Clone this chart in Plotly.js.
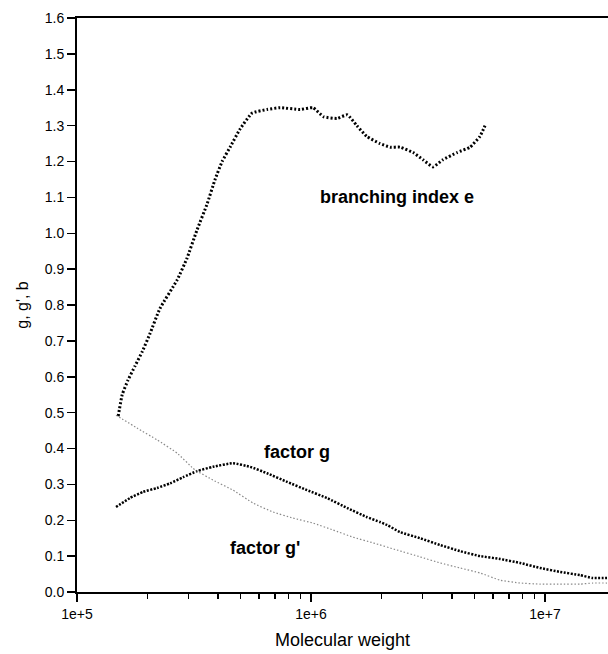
<!DOCTYPE html>
<html>
<head>
<meta charset="utf-8">
<script src="https://cdn.plot.ly/plotly-3.0.1.min.js"></script>
<style>html,body{margin:0;padding:0;background:#fff;}#chart{width:608px;height:654px;}</style>
</head>
<body>
<div id="chart"></div>
<script>
// Branching index e
const bMw = [1.50e5,1.56e5,1.65e5,1.77e5,1.90e5,2.05e5,2.26e5,2.68e5,2.95e5,3.26e5,3.59e5,3.89e5,4.17e5,4.51e5,4.97e5,5.60e5,6.49e5,7.38e5,8.98e5,1.02e6,1.13e6,1.29e6,1.43e6,1.57e6,1.73e6,1.97e6,2.18e6,2.40e6,2.73e6,3.01e6,3.32e6,3.66e6,4.21e6,4.78e6,5.27e6,5.54e6];
const bVal = [0.49,0.55,0.59,0.63,0.67,0.72,0.79,0.87,0.93,1.01,1.08,1.15,1.20,1.24,1.29,1.335,1.345,1.35,1.345,1.35,1.325,1.32,1.33,1.30,1.27,1.25,1.24,1.24,1.225,1.205,1.185,1.205,1.225,1.24,1.27,1.30];
// factor g
const gMw = [1.468e5,1.685e5,1.915e5,2.20e5,2.50e5,2.84e5,3.26e5,3.81e5,4.64e5,5.49e5,6.49e5,7.90e5,9.61e5,1.17e6,1.43e6,1.73e6,1.97e6,2.11e6,2.40e6,2.92e6,3.56e6,4.33e6,5.28e6,6.42e6,7.82e6,9.52e6,1.16e7,1.41e7,1.60e7,1.84e7];
const gVal = [0.237,0.262,0.279,0.290,0.303,0.320,0.337,0.349,0.359,0.349,0.331,0.307,0.284,0.262,0.234,0.209,0.195,0.187,0.167,0.150,0.131,0.114,0.100,0.092,0.081,0.067,0.056,0.047,0.039,0.039];
// factor g'
const gpMw = [1.468e5,1.805e5,2.20e5,2.68e5,3.13e5,3.26e5,3.81e5,4.64e5,5.65e5,6.88e5,8.38e5,1.02e6,1.24e6,1.51e6,1.84e6,2.33e6,2.92e6,3.56e6,4.33e6,5.28e6,6.42e6,7.82e6,9.52e6,1.16e7,1.41e7,1.60e7,1.84e7];
const gpVal = [0.493,0.457,0.424,0.387,0.345,0.337,0.312,0.284,0.248,0.223,0.206,0.192,0.173,0.153,0.137,0.117,0.098,0.081,0.067,0.053,0.033,0.025,0.022,0.022,0.022,0.025,0.025];

const xTickVals = [1e5, 1e6, 1e7];
const xTickText = ['1e+5', '1e+6', '1e+7'];
const labels = [
  {text: 'branching index e', mw: 2.33e6, v: 1.101},
  {text: 'factor g', mw: 8.71e5, v: 0.390},
  {text: "factor g'", mw: 6.35e5, v: 0.123}
];

const minorVals = [];
for (let e = 5; e <= 7; e++) for (let m = 2; m <= 9; m++) minorVals.push(m * Math.pow(10, e));

const traces = [
  {x: bMw, y: bVal, mode: 'lines', line: {color: '#000', width: 3, dash: '2px,2px', shape: 'spline', smoothing: 0.4}, hoverinfo: 'skip'},
  {x: gMw, y: gVal, mode: 'lines', line: {color: '#000', width: 2.5, dash: '2px,1.5px', shape: 'spline', smoothing: 0.4}, hoverinfo: 'skip'},
  {x: gpMw, y: gpVal, mode: 'lines', line: {color: '#8a8a8a', width: 1.2, dash: '1.5px,2px', shape: 'spline', smoothing: 0.4}, hoverinfo: 'skip'}
];

const font = 'Arial, "Liberation Sans", sans-serif';
const layout = {
  width: 608, height: 654,
  margin: {l: 77, r: 0, t: 18, b: 62},
  paper_bgcolor: '#fff', plot_bgcolor: '#fff',
  showlegend: false,
  font: {family: font, color: '#000'},
  xaxis: {
    type: 'log', range: [5, 7.269],
    tickmode: 'array', tickvals: xTickVals, ticktext: xTickText,
    ticks: 'outside', ticklen: 8, tickwidth: 1.5, tickcolor: '#000',
    tickfont: {family: font, size: 14, color: '#000'},
    minor: {ticks: 'outside', ticklen: 5, tickwidth: 1.5, tickcolor: '#000', tickmode: 'array', tickvals: minorVals, showgrid: false},
    showline: true, linecolor: '#000', linewidth: 2, mirror: true,
    showgrid: false, zeroline: false,
    title: {text: 'Molecular weight', font: {family: font, size: 18, color: '#000'}, standoff: 13}
  },
  yaxis: {
    range: [0, 1.6], dtick: 0.1, tick0: 0, tickformat: '.1f',
    ticks: 'outside', ticklen: 8, tickwidth: 1.5, tickcolor: '#000',
    tickfont: {family: font, size: 14, color: '#000'},
    showline: true, linecolor: '#000', linewidth: 2,
    showgrid: false, zeroline: false,
    title: {text: "g, g', b", font: {family: font, size: 16, color: '#000'}, standoff: 12}
  },
  annotations: labels.map(l => ({
    x: Math.log10(l.mw), y: l.v, xref: 'x', yref: 'y', text: '<b>' + l.text + '</b>',
    showarrow: false, font: {family: font, size: 18, color: '#000'}, xanchor: 'center', yanchor: 'middle'
  }))
};

Plotly.newPlot('chart', traces, layout, {staticPlot: true, displayModeBar: false});
</script>
</body>
</html>
